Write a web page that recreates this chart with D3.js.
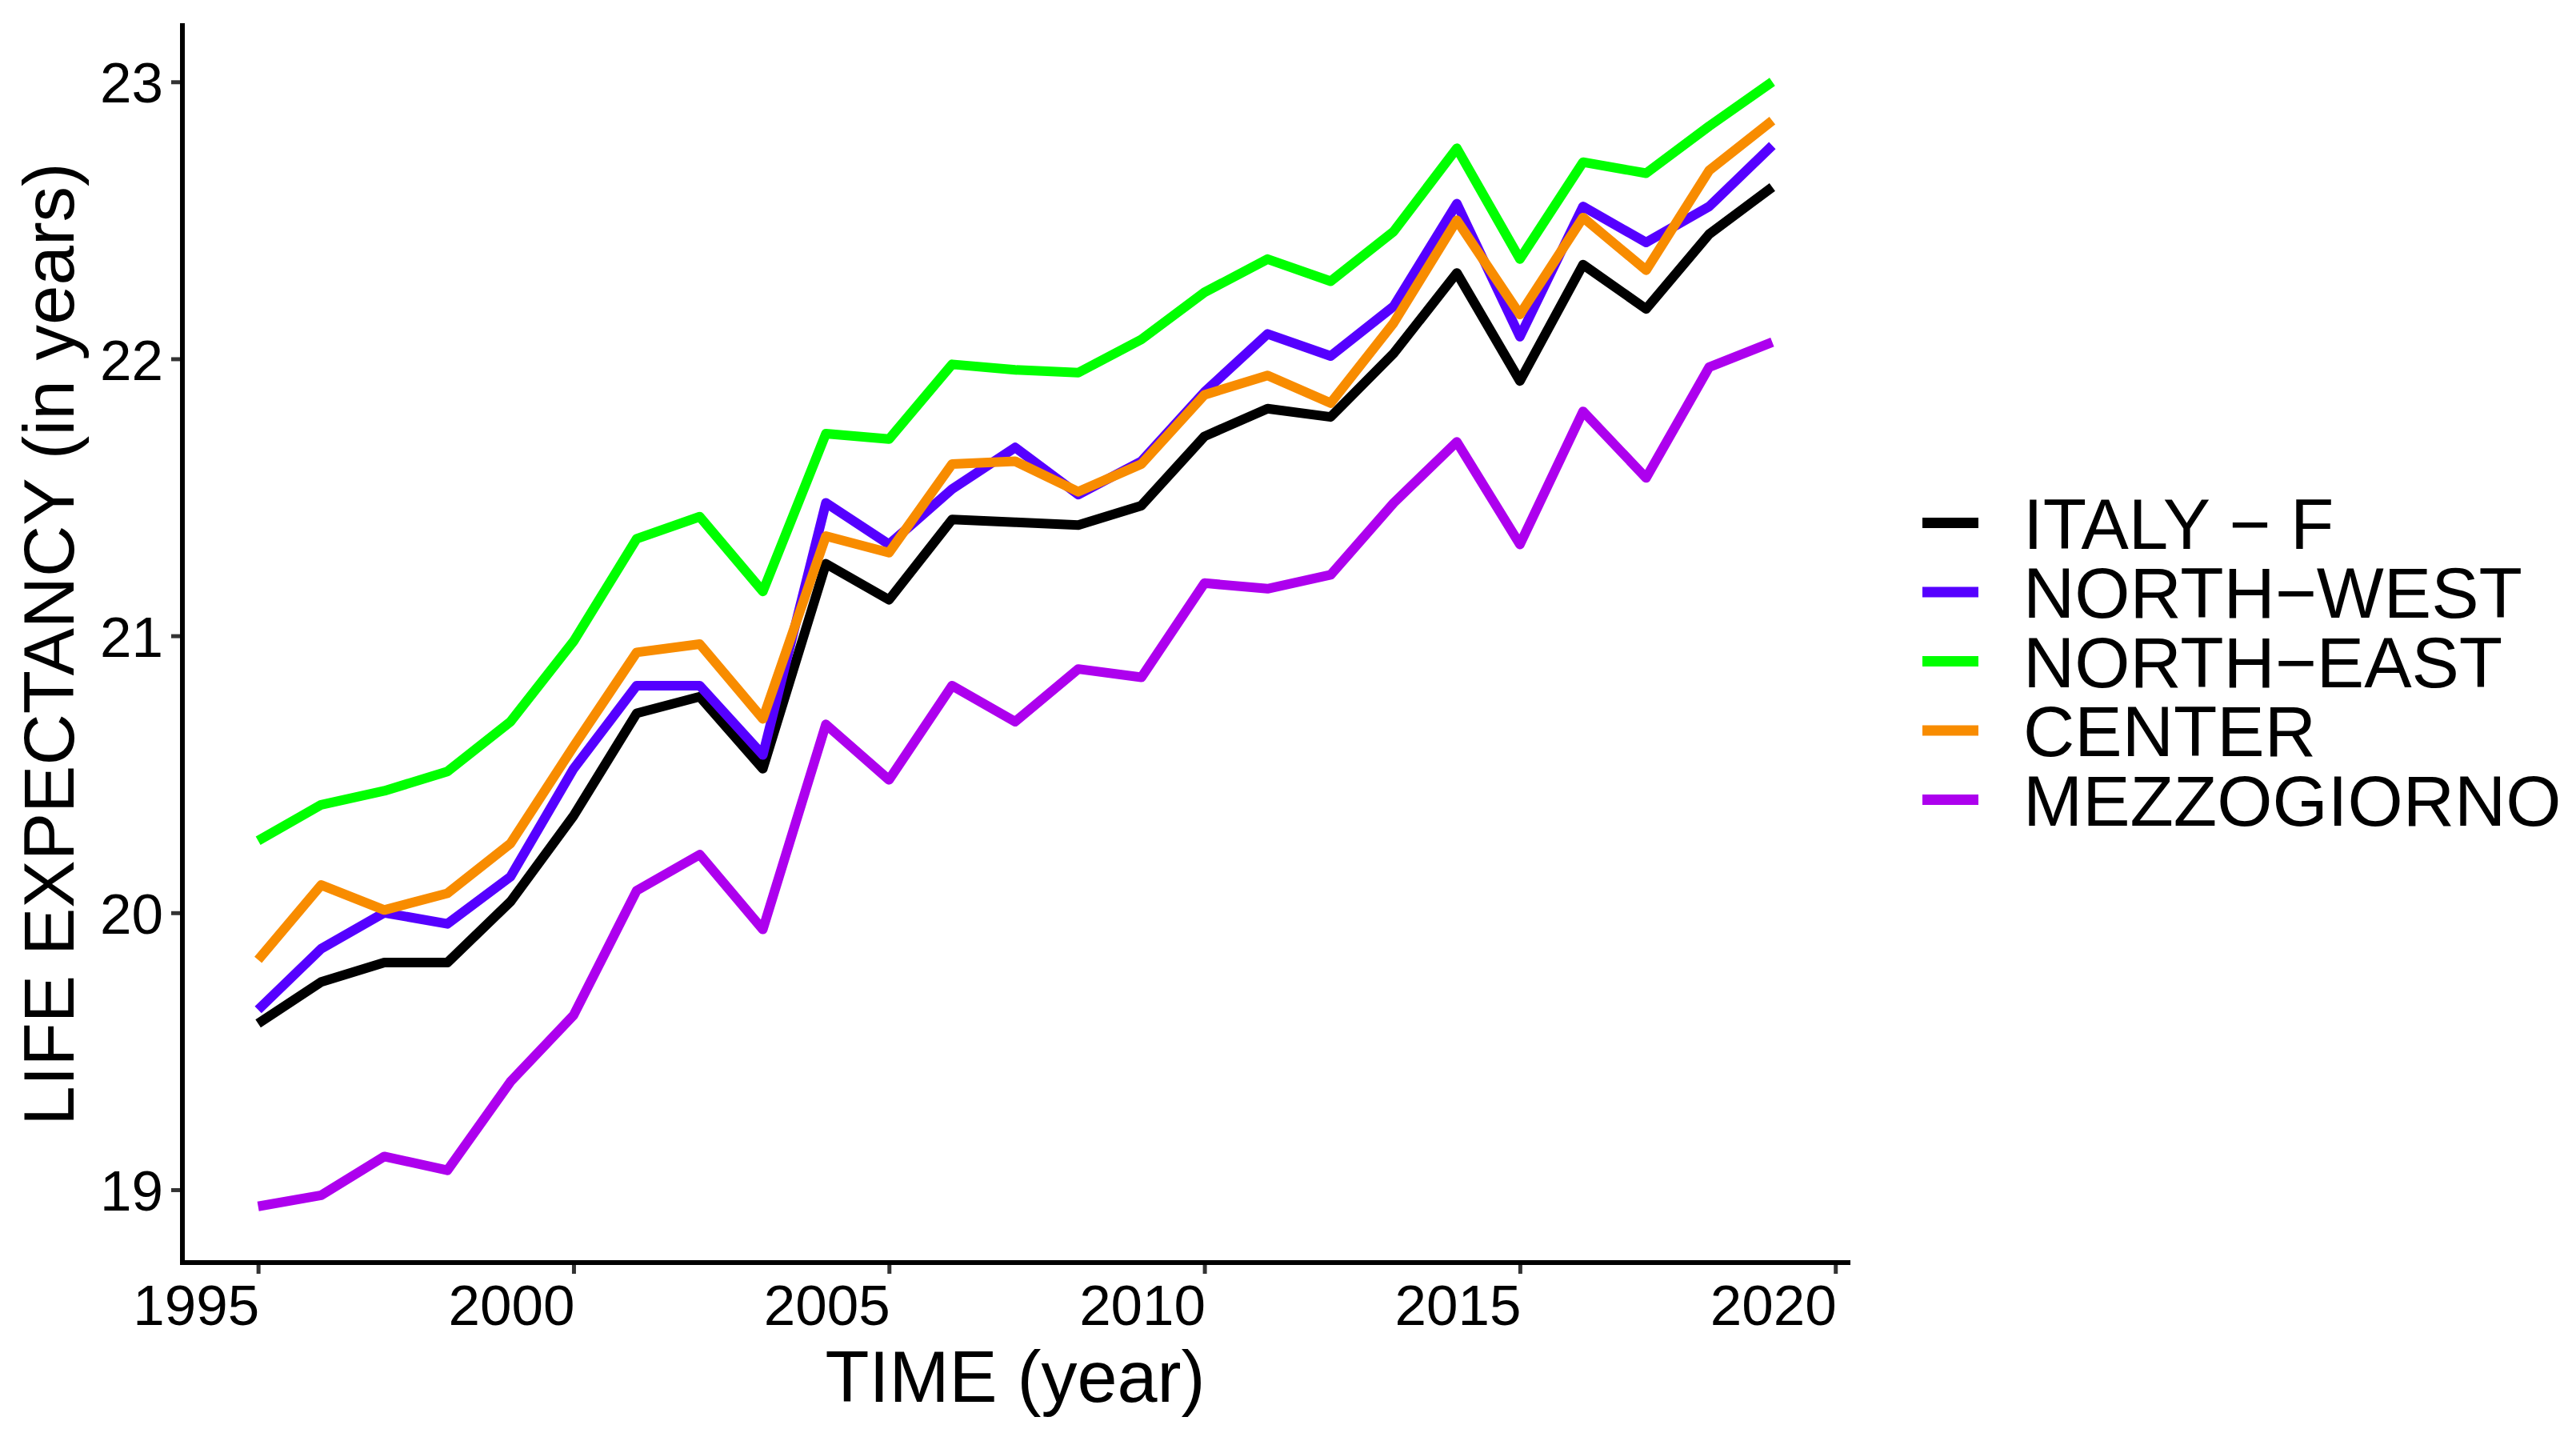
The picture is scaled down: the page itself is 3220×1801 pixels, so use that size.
<!DOCTYPE html>
<html>
<head>
<meta charset="utf-8">
<script src="https://cdn.jsdelivr.net/npm/d3@7"></script>
<style>
  html, body { margin: 0; padding: 0; background: #ffffff; }
  svg { display: block; }
  text { font-family: Arial, "Liberation Sans", Helvetica, sans-serif; fill: #000; }
</style>
</head>
<body>
<script>
// ---- Data ----
const years = [1995,1996,1997,1998,1999,2000,2001,2002,2003,2004,2005,2006,2007,2008,2009,2010,2011,2012,2013,2014,2015,2016,2017,2018,2019];
const seriesNames = ["ITALY − F", "NORTH−WEST", "NORTH−EAST", "CENTER", "MEZZOGIORNO"];
const italyF      = [19.60,19.75,19.82,19.82,20.04,20.35,20.72,20.78,20.52,21.26,21.13,21.42,21.41,21.40,21.47,21.72,21.82,21.79,22.02,22.31,21.92,22.34,22.18,22.45,22.62];
const northWest   = [19.65,19.87,20.00,19.96,20.13,20.52,20.82,20.82,20.57,21.48,21.33,21.53,21.68,21.51,21.63,21.88,22.09,22.01,22.19,22.56,22.08,22.55,22.42,22.55,22.77];
const northEast   = [20.26,20.39,20.44,20.51,20.69,20.98,21.35,21.43,21.16,21.73,21.71,21.98,21.96,21.95,22.07,22.24,22.36,22.28,22.46,22.76,22.36,22.71,22.67,22.84,23.00];
const center      = [19.83,20.10,20.01,20.07,20.25,20.60,20.94,20.97,20.70,21.36,21.30,21.62,21.63,21.52,21.62,21.87,21.94,21.84,22.13,22.50,22.16,22.51,22.32,22.68,22.86];
const mezzogiorno = [18.94,18.98,19.12,19.07,19.39,19.63,20.08,20.21,19.94,20.68,20.48,20.82,20.69,20.88,20.85,21.19,21.17,21.22,21.48,21.70,21.33,21.81,21.57,21.97,22.06];
const seriesColors = ["#000000", "#5500FF", "#00FF00", "#F88C00", "#AD00EE"];
const xTicks = [1995, 2000, 2005, 2010, 2015, 2020];
const yTicks = [19, 20, 21, 22, 23];
const xTitle = "TIME (year)";
const yTitle = "LIFE EXPECTANCY (in years)";

const seriesValues = [italyF, northWest, northEast, center, mezzogiorno];
const series = seriesNames.map((name, i) => ({
  name, color: seriesColors[i],
  values: years.map((yr, j) => ({ x: yr, y: seriesValues[i][j] }))
}));

// ---- Layout ----
const W = 3220, H = 1801;
const panel = { left: 228, right: 2310, top: 32, bottom: 1578 };

function expand(ext, f) { const d = (ext[1] - ext[0]) * f; return [ext[0] - d, ext[1] + d]; }
const xExt = d3.extent(years);
const allY = seriesValues.flat();
const yExt = d3.extent(allY);

const x = d3.scaleLinear().domain(expand(xExt, 0.05)).range([panel.left, panel.right]);
const y = d3.scaleLinear().domain(expand(yExt, 0.05)).range([panel.bottom, panel.top]);

const svg = d3.select("body").append("svg").attr("width", W).attr("height", H);
svg.append("rect").attr("width", W).attr("height", H).attr("fill", "#fff");

// ---- Lines ----
const line = d3.line().x(d => x(d.x)).y(d => y(d.y));
svg.append("g").selectAll("path").data(series).join("path")
  .attr("d", d => line(d.values))
  .attr("fill", "none")
  .attr("stroke", d => d.color)
  .attr("stroke-width", 12)
  .attr("stroke-linejoin", "round")
  .attr("stroke-linecap", "butt");

// ---- Axes ----
const tickFont = 71;
const xAxis = d3.axisBottom(x).tickValues(xTicks).tickFormat(d3.format("d")).tickSizeInner(14).tickSizeOuter(0).tickPadding(8);
const gx = svg.append("g").attr("transform", `translate(0,${panel.bottom})`).call(xAxis);
gx.select(".domain").remove();
gx.selectAll(".tick line").attr("stroke", "#333333").attr("stroke-width", 5);
gx.selectAll(".tick text")
  .attr("font-size", tickFont)
  .attr("text-anchor", "end")
  .attr("x", 1)
  .attr("y", 0)
  .attr("dy", 78)
  .attr("fill", "#000");

const yAxis = d3.axisLeft(y).tickValues(yTicks).tickFormat(d3.format("d")).tickSizeInner(14).tickSizeOuter(0).tickPadding(10);
const gy = svg.append("g").attr("transform", `translate(${panel.left},0)`).call(yAxis);
gy.select(".domain").remove();
gy.selectAll(".tick line").attr("stroke", "#333333").attr("stroke-width", 5);
gy.selectAll(".tick text")
  .attr("font-size", tickFont)
  .attr("x", -24)
  .attr("dy", "0.36em")
  .attr("fill", "#000");

// axis lines
svg.append("line")
  .attr("x1", panel.left).attr("x2", panel.right)
  .attr("y1", panel.bottom).attr("y2", panel.bottom)
  .attr("stroke", "#000").attr("stroke-width", 6).attr("stroke-linecap", "square");
svg.append("line")
  .attr("x1", panel.left).attr("x2", panel.left)
  .attr("y1", panel.top).attr("y2", panel.bottom)
  .attr("stroke", "#000").attr("stroke-width", 6).attr("stroke-linecap", "square");

// ---- Titles ----
svg.append("text")
  .attr("x", (panel.left + panel.right) / 2)
  .attr("y", 1752)
  .attr("text-anchor", "middle")
  .attr("font-size", 90)
  .text(xTitle);

svg.append("text")
  .attr("transform", `translate(92,${(panel.top + panel.bottom) / 2}) rotate(-90)`)
  .attr("text-anchor", "middle")
  .attr("font-size", 89)
  .text(yTitle);

// ---- Legend ----
const legend = svg.append("g").attr("transform", "translate(2403,653.5)");
const rowH = 86.5;
const items = legend.selectAll("g").data(series).join("g")
  .attr("transform", (d, i) => `translate(0,${i * rowH})`);
items.append("line")
  .attr("x1", 0).attr("x2", 70).attr("y1", 0).attr("y2", 0)
  .attr("stroke", d => d.color).attr("stroke-width", 13);
items.append("text")
  .attr("x", 126)
  .attr("dy", "0.36em")
  .attr("font-size", 89)
  .text(d => d.name);
</script>
</body>
</html>
